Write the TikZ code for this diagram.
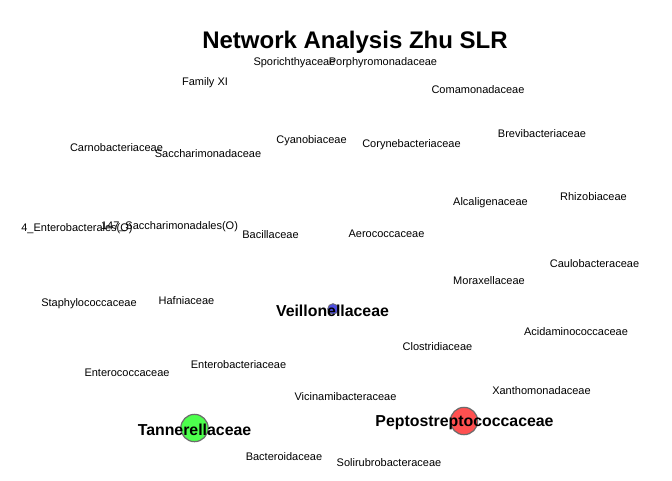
\documentclass[tikz,border=0pt]{standalone}
\usepackage{fontspec}
\setmainfont{Liberation Sans}
\usepackage{xcolor}
\usepackage{tikz}
\usetikzlibrary{positioning}

\definecolor{hubgreen}{RGB}{77,255,77}
\definecolor{hubred}{RGB}{255,80,80}
\definecolor{hubblue}{RGB}{80,80,225}

\begin{document}
\begin{tikzpicture}[
    x=0.75pt, y=-0.75pt,
    taxon/.style={
      font=\fontsize{8.25}{9}\selectfont,
      inner sep=0pt,
      yshift=-1pt
    },
    hub/.style={
      font=\bfseries\fontsize{11.9}{13}\selectfont,
      inner sep=0pt
    },
    vertex/.style={
      circle,
      draw=gray!85!black,
      line width=0.9pt,
      inner sep=0pt,
      minimum size=20.5pt
    },
    title/.style={
      font=\bfseries\fontsize{18}{20}\selectfont,
      inner sep=0pt,
      yshift=-1.5pt
    }
  ]

    % Canvas
    \useasboundingbox (0,0) rectangle (672,480);

    % Title
    \node[title] (title) at (355,40) {Network Analysis Zhu SLR};

    % Hub vertices (drawn first, labels on top)
    \node[vertex, fill=hubblue, line width=0.6pt, minimum size=8pt] (veil) at (333,309) {};
    \node[vertex, fill=hubgreen] (tann) at (194.5,428) {};
    \node[vertex, fill=hubred] (pepto) at (464,421) {};

    \node[hub] (veillabel) at (332.5,311) {Veillonellaceae};
    \node[hub] (tannlabel) at (194.5,430) {Tannerellaceae};
    \node[hub] (peptolabel) at (464.5,423) {Peptostreptococcaceae};

    % Remaining taxa
    \node[taxon] (spor) at (294.5,61) {Sporichthyaceae};
    \node[taxon] (porph) at (383,61) {Porphyromonadaceae};
    \node[taxon] (famxi) at (205,81) {Family XI};
    \node[taxon] (coma) at (478,88) {Comamonadaceae};
    \node[taxon] (carno) at (116.5,146) {Carnobacteriaceae};
    \node[taxon] (sacch) at (208,152) {Saccharimonadaceae};
    \node[taxon] (cyano) at (311.5,139) {Cyanobiaceae};
    \node[taxon] (coryne) at (411.5,143) {Corynebacteriaceae};
    \node[taxon] (brevi) at (542,132) {Brevibacteriaceae};
    \node[taxon] (alcali) at (490.5,201) {Alcaligenaceae};
    \node[taxon] (rhizo) at (593.5,195) {Rhizobiaceae};
    \node[taxon] (entero) at (77,227) {4\_Enterobacterales(O)};
    \node[taxon] (saccho) at (169.5,225) {147\_Saccharimonadales(O)};
    \node[taxon] (bacill) at (270.5,233) {Bacillaceae};
    \node[taxon] (aero) at (386.5,232) {Aerococcaceae};
    \node[taxon] (caulo) at (594.5,262) {Caulobacteraceae};
    \node[taxon] (morax) at (489,279) {Moraxellaceae};
    \node[taxon] (staph) at (89,302) {Staphylococcaceae};
    \node[taxon] (hafni) at (186.5,299) {Hafniaceae};
    \node[taxon] (acida) at (576,330) {Acidaminococcaceae};
    \node[taxon] (clost) at (437.5,345) {Clostridiaceae};
    \node[taxon] (enterob) at (238.5,363) {Enterobacteriaceae};
    \node[taxon] (enteroc) at (127,371) {Enterococcaceae};
    \node[taxon] (xantho) at (541.5,389) {Xanthomonadaceae};
    \node[taxon] (vicin) at (345.5,395) {Vicinamibacteraceae};
    \node[taxon] (bactero) at (284,455) {Bacteroidaceae};
    \node[taxon] (soliru) at (389,461) {Solirubrobacteraceae};

  \end{tikzpicture}
\end{document}
